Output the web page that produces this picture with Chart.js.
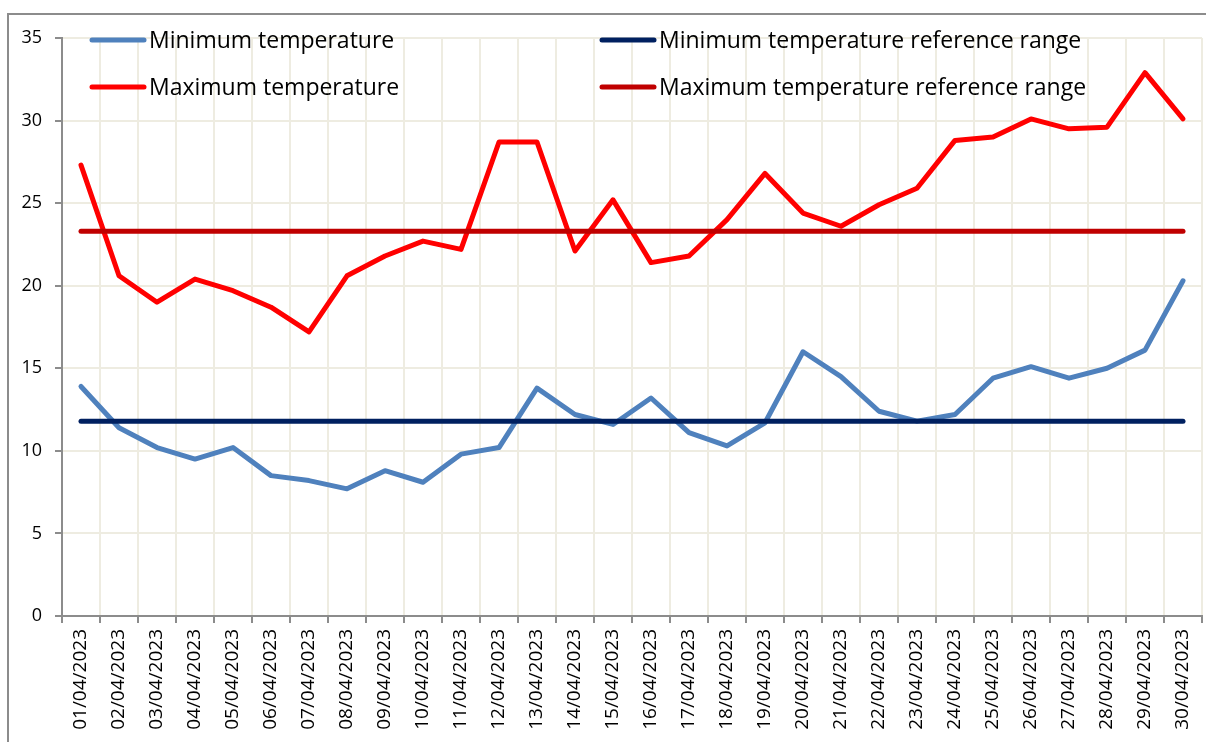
<!DOCTYPE html>
<html>
<head>
<meta charset="utf-8">
<script src="https://cdn.jsdelivr.net/npm/chart.js@4/dist/chart.umd.min.js"></script>
<style>
    body { margin: 0; background: #fff; }
    #wrap { position: relative; width: 1206px; height: 742px; overflow: hidden; }
    #frame { position: absolute; left: 7px; top: 13px; width: 1300px; height: 800px; border: 2px solid #8c8c8c; box-sizing: border-box; }
    canvas { position: absolute; left: 0; top: 0; }
</style>
</head>
<body>
<div id="wrap">
    <div id="frame"></div>
    <canvas id="tempChart"></canvas>
</div>
<script>
// 日期
const days = ['01/04/2023', '02/04/2023', '03/04/2023', '04/04/2023', '05/04/2023', '06/04/2023',
    '07/04/2023', '08/04/2023', '09/04/2023', '10/04/2023', '11/04/2023', '12/04/2023',
    '13/04/2023', '14/04/2023', '15/04/2023', '16/04/2023', '17/04/2023', '18/04/2023',
    '19/04/2023', '20/04/2023', '21/04/2023', '22/04/2023', '23/04/2023', '24/04/2023',
    '25/04/2023', '26/04/2023', '27/04/2023', '28/04/2023', '29/04/2023', '30/04/2023'];

// 最低 / 最高气温
const minTemp = [13.9, 11.4, 10.2, 9.5, 10.2, 8.5, 8.2, 7.7, 8.8, 8.1, 9.8, 10.2, 13.8, 12.2, 11.6,
    13.2, 11.1, 10.3, 11.7, 16.0, 14.5, 12.4, 11.8, 12.2, 14.4, 15.1, 14.4, 15.0, 16.1, 20.3];
const maxTemp = [27.3, 20.6, 19.0, 20.4, 19.7, 18.7, 17.2, 20.6, 21.8, 22.7, 22.2, 28.7, 28.7, 22.1, 25.2,
    21.4, 21.8, 24.0, 26.8, 24.4, 23.6, 24.9, 25.9, 28.8, 29.0, 30.1, 29.5, 29.6, 32.9, 30.1];

// 参考范围
const minRef = 11.8;
const maxRef = 23.3;

const yTicks = [0, 5, 10, 15, 20, 25, 30, 35];

// 自定义图例（两列两行）
const legendPlugin = {
    id: 'cornerLegend',
    afterDraw(chart) {
        const ctx = chart.ctx;
        const spots = [
            { ds: 0, x: 92, y: 40 },
            { ds: 2, x: 602, y: 40 },
            { ds: 1, x: 92, y: 87 },
            { ds: 3, x: 602, y: 87 }
        ];
        ctx.save();
        ctx.font = '23px "Open Sans"';
        ctx.textBaseline = 'middle';
        ctx.fillStyle = '#000';
        spots.forEach(s => {
            const d = chart.data.datasets[s.ds];
            ctx.strokeStyle = d.borderColor;
            ctx.lineWidth = 5;
            ctx.lineCap = 'round';
            ctx.beginPath();
            ctx.moveTo(s.x, s.y);
            ctx.lineTo(s.x + 52, s.y);
            ctx.stroke();
            ctx.fillText(d.label, s.x + 57, s.y + 1);
        });
        ctx.restore();
    }
};

Chart.defaults.font.family = '"Open Sans"';
Chart.defaults.color = '#000';

const ctx = document.getElementById('tempChart').getContext('2d');
new Chart(ctx, {
    type: 'line',
    data: {
        labels: days,
        datasets: [{
            label: 'Minimum temperature',
            data: minTemp,
            borderColor: '#4F81BD',
            order: 2
        }, {
            label: 'Maximum temperature',
            data: maxTemp,
            borderColor: '#FF0000',
            order: 2
        }, {
            label: 'Minimum temperature reference range',
            data: days.map(() => minRef),
            borderColor: '#002060',
            order: 1
        }, {
            label: 'Maximum temperature reference range',
            data: days.map(() => maxRef),
            borderColor: '#C00000',
            order: 1
        }]
    },
    options: {
        responsive: true,
        maintainAspectRatio: false,
        animation: false,
        layout: { padding: { top: 38, right: 4, left: 0, bottom: 0 } },
        elements: {
            line: { borderWidth: 5, tension: 0, borderCapStyle: 'round', borderJoinStyle: 'round', fill: false },
            point: { radius: 0, hoverRadius: 0 }
        },
        plugins: {
            legend: { display: false },
            tooltip: { enabled: false }
        },
        scales: {
            x: {
                offset: true,
                grid: { offset: true, color: '#EEECE1', lineWidth: 2, tickColor: '#8c8c8c', tickLength: 7 },
                border: { color: '#8c8c8c', width: 2 },
                ticks: { minRotation: 90, maxRotation: 90, autoSkip: false, padding: 6, font: { size: 19 } },
                afterFit(scale) {
                    scale.height = 126;
                    scale.paddingLeft = 0;
                    scale.paddingRight = 0;
                }
            },
            y: {
                min: 0,
                max: 35,
                afterBuildTicks(scale) { scale.ticks = yTicks.map(v => ({ value: v })); },
                grid: { color: '#EEECE1', lineWidth: 2, tickColor: '#8c8c8c', tickLength: 7 },
                border: { color: '#8c8c8c', width: 2 },
                ticks: { padding: 13, font: { size: 18 } },
                afterFit(scale) {
                    scale.width = 62;
                    scale.paddingTop = 0;
                    scale.paddingBottom = 0;
                }
            }
        }
    },
    plugins: [legendPlugin]
});
</script>
</body>
</html>
